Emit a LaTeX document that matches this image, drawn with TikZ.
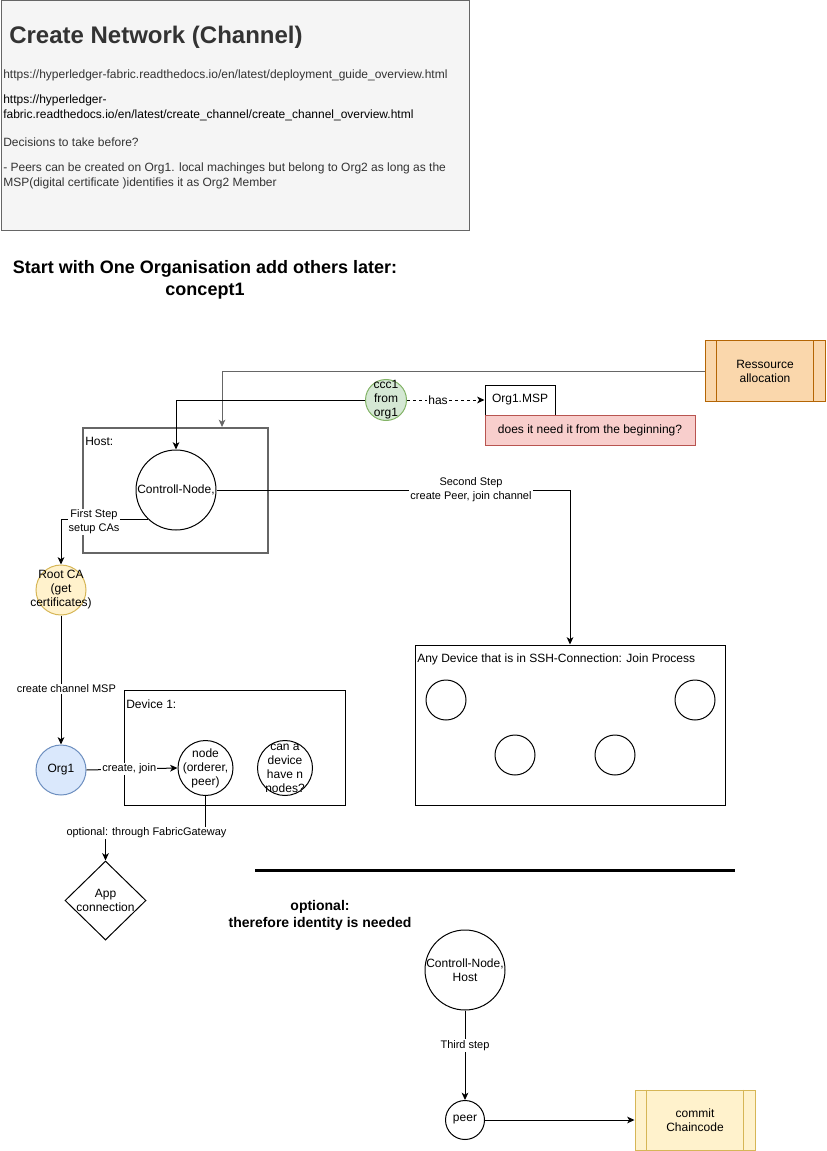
\documentclass[tikz,border=0pt]{standalone}
\usepackage{fontspec}
\setmainfont{Liberation Sans}
\usetikzlibrary{arrows.meta,shapes.geometric}

\definecolor{txtgray}{HTML}{333333}
\definecolor{boxgray}{HTML}{666666}
\definecolor{notefill}{HTML}{F5F5F5}
\definecolor{orangefill}{HTML}{FAD7AC}
\definecolor{orangeline}{HTML}{B46504}
\definecolor{greenfill}{HTML}{D5E8D4}
\definecolor{greenline}{HTML}{82B366}
\definecolor{redfill}{HTML}{F8CECC}
\definecolor{redline}{HTML}{B85450}
\definecolor{yellowfill}{HTML}{FFF2CC}
\definecolor{yellowline}{HTML}{D6B656}
\definecolor{bluefill}{HTML}{DAE8FC}
\definecolor{blueline}{HTML}{6C8EBF}

\tikzset{
  txt/.style={font=\fontsize{9}{10.5}\selectfont, align=center, inner sep=0pt},
  lefttxt/.style={font=\fontsize{9}{11.5}\selectfont, align=left, inner sep=0pt, anchor=west},
  elabel/.style={font=\fontsize{8.25}{10.5}\selectfont, align=center, fill=white, inner sep=0.8pt},
  ring/.style={circle, draw, line width=0.75pt, minimum size=#1, inner sep=0pt},
  ctext/.style={label={[txt]center:{#1}}},
  box/.style={rectangle, draw, line width=0.75pt, inner sep=0pt},
  procbox/.style={box, minimum width=90pt, minimum height=45pt, txt},
  conn/.style={line width=0.75pt, -{Stealth[length=5.5pt, width=5pt, inset=1.5pt]}},
  plainconn/.style={line width=0.75pt},
}

\begin{document}
\begin{tikzpicture}[x=0.75pt, y=-0.75pt]
\useasboundingbox (0,0) rectangle (826,1151);

% ---- note block with links ----
\node[box, draw=boxgray, fill=notefill, minimum width=351pt, minimum height=172.5pt] (note) at (235,116) {};
\node[lefttxt, font=\bfseries\fontsize{18}{21}\selectfont, text=txtgray] (title) at (9,37) {Create Network (Channel)};
\node[lefttxt, text=txtgray] (urla) at (3,75) {https://hyperledger-fabric.readthedocs.io/en/latest/deployment\_guide\_overview.html};
\node[lefttxt, text=black] (urlb) at (3,108) {https://hyperledger-\\fabric.readthedocs.io/en/latest/create\_channel/create\_channel\_overview.html};
\node[lefttxt, text=txtgray] (decide) at (3,142) {Decisions to take before?};
\node[lefttxt, text=txtgray] (peersnote) at (3,176) {- Peers can be created on Org1. local machinges but belong to Org2 as long as the\\MSP(digital certificate )identifies it as Org2 Member};

% ---- headings ----
\node[txt, font=\bfseries\fontsize{13.5}{16.5}\selectfont] (heading) at (205,280) {Start with One Organisation add others later:\\concept1};
\node[txt, font=\bfseries\fontsize{10.5}{12.75}\selectfont] (optnote) at (320,915.5) {optional:\\therefore identity is needed};

% ---- resource allocation ----
\node[procbox, draw=orangeline, fill=orangefill] (res) at (765,371) {Ressource\\allocation};
\draw[orangeline, line width=0.75pt] ([xshift=9pt]res.north west) -- ([xshift=9pt]res.south west)
  ([xshift=-9pt]res.north east) -- ([xshift=-9pt]res.south east);

% ---- ccc1 and MSP ----
\node[ring=30.75pt, draw=greenline, fill=greenfill, ctext={ccc1\\from\\org1}] (ccc) at (386,400) {};
\node[box, minimum width=52.5pt, minimum height=22.5pt, txt] (msp) at (520,400) {Org1.MSP};
\node[box, draw=redline, fill=redfill, minimum width=157.5pt, minimum height=22.5pt, txt] (ask) at (590,430) {does it need it from the beginning?};

% ---- host ----
\node[box, draw=boxgray, line width=1.5pt, minimum width=138.75pt, minimum height=93.75pt] (host) at (175.5,490.5) {};
\node[lefttxt] (hostlbl) at (85,441) {Host:};
\node[ring=60pt, ctext={Controll-Node,}] (ctrl) at (176,490) {};

% ---- CA and organisation ----
\node[ring=37.5pt, draw=yellowline, fill=yellowfill, ctext={Root CA\\(get\\certificates)}] (rootca) at (61,590) {};
\node[ring=37.5pt, draw=blueline, fill=bluefill, ctext={Org1}] (org1) at (61,770) {};

% ---- device 1 ----
\node[box, minimum width=165.75pt, minimum height=86.25pt] (dev1) at (234.5,747.5) {};
\node[lefttxt] (dev1lbl) at (126,704) {Device 1:};
\node[ring=41.25pt, ctext={node\\(orderer,\\peer)}] (node1) at (205.5,768) {};
\node[ring=41.25pt, ctext={can a\\device\\have n\\nodes?}] (canA) at (285,768) {};

% ---- app connection ----
\node[diamond, draw, line width=0.75pt, minimum width=60.75pt, minimum height=59.25pt, inner sep=0pt,
      label={[txt]center:{App\\connection}}] (app) at (105.5,900.5) {};

% ---- any device ----
\node[box, minimum width=232.5pt, minimum height=120pt] (anydev) at (570,725) {};
\node[lefttxt] (anylbl) at (417,659) {Any Device that is in SSH-Connection: Join Process};
\node[ring=30pt] (da) at (446,700) {};
\node[ring=30pt] (db) at (695,700) {};
\node[ring=30pt] (dc) at (515,755) {};
\node[ring=30pt] (dd) at (615,755) {};

% ---- separator ----
\coordinate (sepL) at (255,870);
\coordinate (sepR) at (735,870);
\draw[line width=2.25pt] (sepL) -- (sepR);

% ---- optional part ----
\node[ring=60pt, ctext={Controll-Node,\\Host}] (ctrl2) at (465,970) {};
\node[ring=29.25pt, ctext={peer}] (peer) at (465,1120) {};
\node[procbox, draw=yellowline, fill=yellowfill] (commit) at (695,1120) {commit\\Chaincode};
\draw[yellowline, line width=0.75pt] ([xshift=9pt]commit.north west) -- ([xshift=9pt]commit.south west)
  ([xshift=-9pt]commit.north east) -- ([xshift=-9pt]commit.south east);

% ---- connectors ----
\draw[conn, draw=boxgray] (res.west) -| ([xshift=34.9pt]host.north);
\draw[conn] (ccc.west) -| (ctrl.north);
\draw[conn, dashed, dash pattern=on 2.25pt off 2.25pt] (ccc.east) -- (msp.west)
  node[elabel, font=\fontsize{9}{10.5}\selectfont, pos=0.4] {has};
\draw[conn] (ctrl.east) -| (anydev.north)
  node[elabel, pos=0.36] {Second Step\\create Peer, join channel};
\draw[conn] (ctrl.226) -| (rootca.north)
  node[elabel, pos=0.31, yshift=-2pt] {First Step\\setup CAs};
\draw[conn] (rootca.south) -- (org1.north)
  node[elabel, pos=0.57, xshift=4pt] {create channel MSP};
\draw[conn] (org1.east) -- (node1.west)
  node[elabel, pos=0.47] {create, join};
\draw[conn] (node1.south) -- ++(0,37) -| (app.north)
  node[elabel, pos=0.295] {optional: through FabricGateway};
\draw[conn] (ctrl2.south) -- (peer.north)
  node[elabel, pos=0.39] {Third step};
\draw[conn] (peer.east) -- (commit.west);

\end{tikzpicture}
\end{document}
